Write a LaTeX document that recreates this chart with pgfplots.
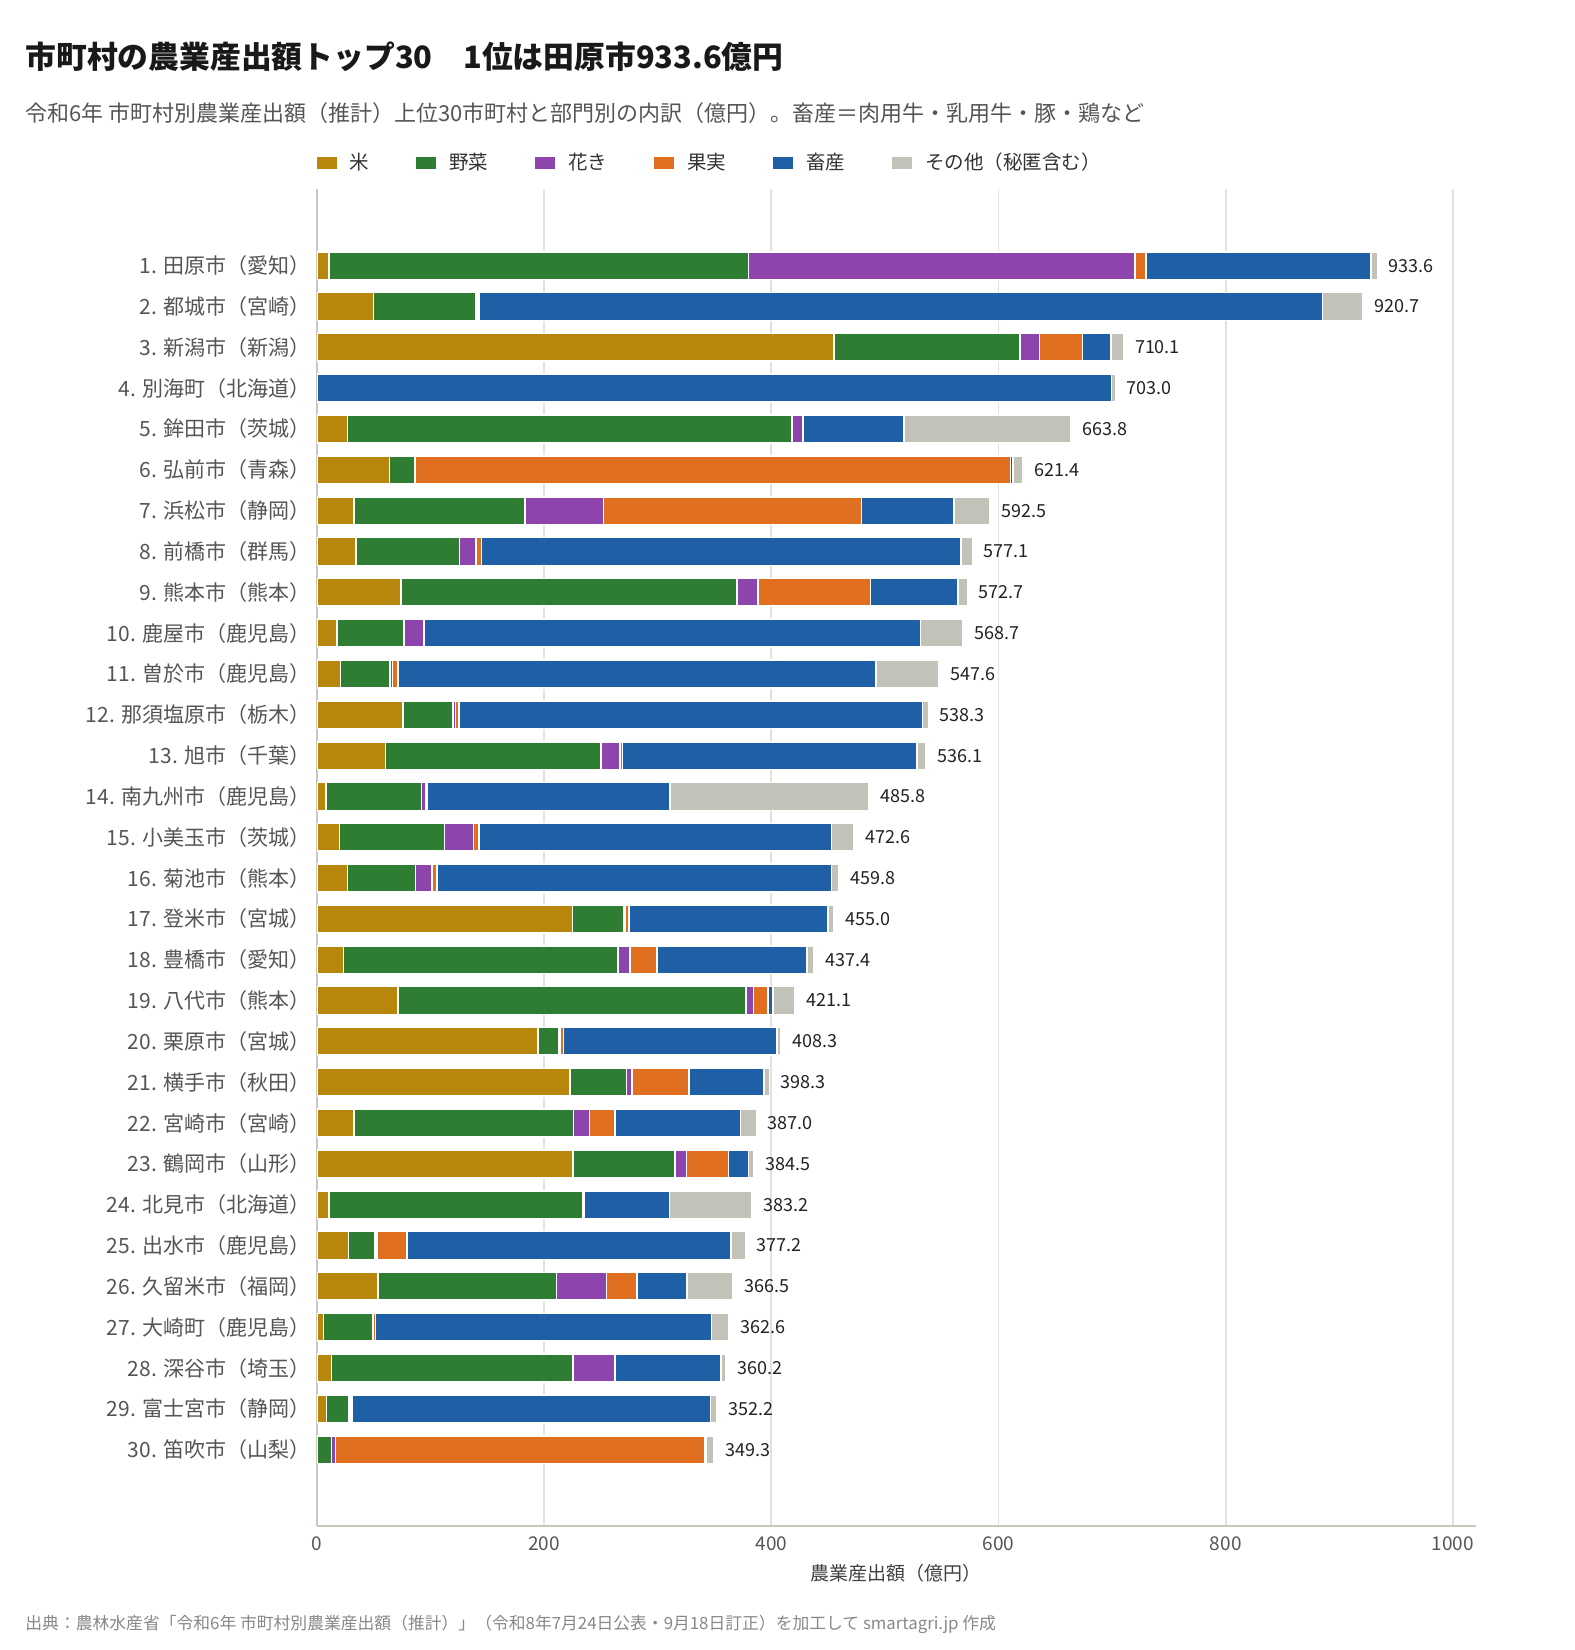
\documentclass[border=0pt]{standalone}
\usepackage{fontspec}
\setmainfont{Noto Sans CJK JP}
\usepackage{pgfplots}
\pgfplotsset{compat=1.18}
\usepackage{pgfplotstable}

\definecolor{cRice}{HTML}{B8860B}
\definecolor{cVeg}{HTML}{2E7D32}
\definecolor{cFlower}{HTML}{8E44AD}
\definecolor{cFruit}{HTML}{E07020}
\definecolor{cLive}{HTML}{1F5FA6}
\definecolor{cOther}{HTML}{C2C2B8}
\definecolor{gridc}{HTML}{E2E2DC}
\definecolor{axc}{HTML}{C8C8BE}
\definecolor{labc}{HTML}{555555}
\definecolor{valc}{HTML}{222222}
\definecolor{srcc}{HTML}{888888}

% 部門別の内訳（億円）
\pgfplotstableread{
rank rice veg flower fruit live other total
1 11 369 340 10 198 5.6 933.6
2 50 90 2 1 742 35.7 920.7
3 455 164 17 38 25 11.1 710.1
4 0 0.5 0 0 699 3.5 703.0
5 27 391 9.5 0.5 89 146.8 663.8
6 64 22 0.5 524 2 8.9 621.4
7 32.5 151 69 227 81.5 31.5 592.5
8 34.5 91 14.5 5 422 10.1 577.1
9 74 296 18.5 99 77 8.2 572.7
10 18 58.5 17.5 0.5 437 37.2 568.7
11 21 43.5 2 5 420.5 55.6 547.6
12 76 44 2 3 408 5.3 538.3
13 60.5 189.5 17 2 259 8.1 536.1
14 8 84 4 1 214 174.8 485.8
15 20 92.5 25.5 4.5 310.5 19.6 472.6
16 27 60 14.5 4.5 347 6.8 459.8
17 225 45 1 4 175 5 455.0
18 23.5 241.5 10.5 24 132 5.9 437.4
19 71.5 306 7 12.5 4.5 19.6 421.1
20 194.5 18.5 1 3 188 3.3 408.3
21 223 49.5 5 50 66 4.8 398.3
22 32.5 193.5 14 22.5 110.5 14 387.0
23 225.5 90 10 37 17.5 4.5 384.5
24 11 223.5 0.5 0.5 75 72.7 383.2
25 28 23 2 26.5 285 12.7 377.2
26 54 157 44 27 44 40.5 366.5
27 6 43 1 1.5 296 15.1 362.6
28 13 212.5 36.5 1 92.5 4.7 360.2
29 8.5 20 1.5 1.5 315 5.7 352.2
30 0.5 12.5 3.5 325 1 6.8 349.3
}\farmdata

\pgfplotsset{
    segleg/.style={legend image code/.code={\fill[##1,draw=none] (0pt,-3pt) rectangle (10pt,3pt);}},
    frame/.style={at={(158.4pt,-94.65pt)}, anchor=north west,
        scale only axis, width=579.45pt, height=668.35pt,
        y dir=reverse, xmin=0, xmax=1020, ymin=-0.87, ymax=31.87,
        /pgf/number format/assume math mode=true,
        /pgf/number format/1000 sep={}},
}

\begin{document}
\begin{tikzpicture}
\useasboundingbox (0,0) rectangle (787.5pt,-825pt);
\fill[white] (0,0) rectangle (787.5pt,-825pt);

\node[anchor=west, inner sep=0pt, font=\fontsize{15.4}{18}\selectfont\bfseries, text=black!90] at (12.5pt,-28.5pt)
  {市町村の農業産出額トップ30　1位は田原市933.6億円};
\node[anchor=west, inner sep=0pt, font=\fontsize{11}{13}\selectfont, text=labc] at (12.5pt,-56.5pt)
  {令和6年 市町村別農業産出額（推計）上位30市町村と部門別の内訳（億円）。畜産＝肉用牛・乳用牛・豚・鶏など};
\node[anchor=west, inner sep=0pt, font=\fontsize{8.4}{10}\selectfont, text=srcc] at (12.5pt,-812pt)
  {出典：農林水産省「令和6年 市町村別農業産出額（推計）」（令和8年7月24日公表・9月18日訂正）を加工して smartagri.jp 作成};

\begin{axis}[
    frame,
    xbar stacked, bar width=0.68,
    axis x line*=bottom, axis y line*=left,
    x axis line style={color=axc, line width=1.2pt},
    y axis line style={color=axc, line width=1pt},
    xmajorgrids, grid style={color=gridc, line width=0.8pt},
    major tick length=0pt,
    xtick={0,200,...,1000},
    ytick={1,...,30},
    yticklabels={1. 田原市（愛知）, 2. 都城市（宮崎）, 3. 新潟市（新潟）, 4. 別海町（北海道）, 5. 鉾田市（茨城）, 6. 弘前市（青森）, 7. 浜松市（静岡）, 8. 前橋市（群馬）, 9. 熊本市（熊本）, 10. 鹿屋市（鹿児島）, 11. 曽於市（鹿児島）, 12. 那須塩原市（栃木）, 13. 旭市（千葉）, 14. 南九州市（鹿児島）, 15. 小美玉市（茨城）, 16. 菊池市（熊本）, 17. 登米市（宮城）, 18. 豊橋市（愛知）, 19. 八代市（熊本）, 20. 栗原市（宮城）, 21. 横手市（秋田）, 22. 宮崎市（宮崎）, 23. 鶴岡市（山形）, 24. 北見市（北海道）, 25. 出水市（鹿児島）, 26. 久留米市（福岡）, 27. 大崎町（鹿児島）, 28. 深谷市（埼玉）, 29. 富士宮市（静岡）, 30. 笛吹市（山梨）},
    yticklabel style={font=\fontsize{10.5}{12}\selectfont, text=labc, inner sep=0pt, xshift=-3pt},
    xticklabel style={font=\fontsize{9.5}{11}\selectfont, text=labc, inner sep=0pt, yshift=-5pt},
    xlabel={農業産出額（億円）},
    xlabel style={at={(axis description cs:0.5,0)}, anchor=center, yshift=-23.5pt, font=\fontsize{9.5}{11}\selectfont, text=black!75},
    legend style={at={(0,1)}, anchor=west, yshift=13.15pt, draw=none, fill=none, inner sep=0pt, outer sep=0pt,
        font=\fontsize{9.75}{11}\selectfont, text=black!80, nodes={inner sep=0pt},
        /tikz/every odd column/.append style={column sep=6.5pt},
        /tikz/every even column/.append style={column sep=23.5pt}},
    legend columns=6,
    every axis plot/.append style={draw=white, line width=0.8pt},
]
\addplot[fill=cRice, segleg] table[x=rice, y=rank] {\farmdata};
\addlegendentry{米}
\addplot[fill=cVeg, segleg] table[x=veg, y=rank] {\farmdata};
\addlegendentry{野菜}
\addplot[fill=cFlower, segleg] table[x=flower, y=rank] {\farmdata};
\addlegendentry{花き}
\addplot[fill=cFruit, segleg] table[x=fruit, y=rank] {\farmdata};
\addlegendentry{果実}
\addplot[fill=cLive, segleg] table[x=live, y=rank] {\farmdata};
\addlegendentry{畜産}
\addplot[fill=cOther, segleg] table[x=other, y=rank] {\farmdata};
\addlegendentry{その他（秘匿含む）}
\end{axis}

% 合計値のラベル（同じ枠の重ね軸）
\begin{axis}[frame, hide axis]
\addplot[draw=none, mark=none, point meta=explicit,
    nodes near coords={\pgfmathprintnumber[fixed,fixed zerofill,precision=1,assume math mode=true]{\pgfplotspointmeta}},
    every node near coord/.append style={font=\fontsize{9}{10}\selectfont, text=valc, anchor=west, inner sep=0pt, xshift=5.5pt}]
    table[x=total, y=rank, meta=total] {\farmdata};
\end{axis}
\end{tikzpicture}
\end{document}
